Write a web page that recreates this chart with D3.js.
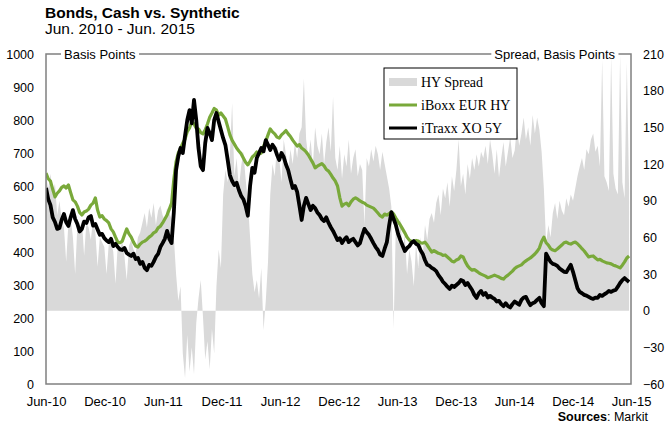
<!DOCTYPE html>
<html>
<head>
<meta charset="utf-8">
<script src="https://cdn.jsdelivr.net/npm/d3@7"></script>
<style>
  body { margin: 0; background: #fff; }
  svg { display: block; font-family: "Liberation Sans", Arial, sans-serif; }
</style>
</head>
<body>
<svg id="chart" width="667" height="427"></svg>
<script>
// Period covered and axis labels
const startDate = new Date(2010, 5, 1);
const endDate = new Date(2015, 5, 1);
const xTickLabels = ["Jun-10", "Dec-10", "Jun-11", "Dec-11", "Jun-12", "Dec-12",
                     "Jun-13", "Dec-13", "Jun-14", "Dec-14", "Jun-15"];
const leftTicks = [0, 100, 200, 300, 400, 500, 600, 700, 800, 900, 1000];
const rightTicks = [-60, -30, 0, 30, 60, 90, 120, 150, 180, 210];

// iBoxx EUR HY, basis points, weekly from Jun-10
const iboxxValues = [
  639, 622, 615, 590, 567, 578, 585, 596, 600, 594, 603, 580, 558, 552, 539, 520, 512, 521, 524, 530,
  542, 548, 564, 527, 506, 510, 500, 495, 488, 470, 461, 445, 430, 428, 433, 452, 470, 455, 445, 430,
  418, 415, 424, 430, 433, 438, 445, 450, 458, 462, 473, 478, 488, 500, 512, 530, 548, 620, 673, 700,
  715, 730, 742, 765, 776, 795, 788, 775, 773, 762, 758, 770, 788, 808, 821, 835, 830, 815, 821, 812,
  803, 780, 755, 738, 727, 715, 706, 698, 685, 672, 664, 675, 688, 694, 703, 697, 700, 720, 736, 755,
  773, 764, 758, 748, 745, 755, 761, 768, 758, 750, 739, 730, 721, 725, 715, 710, 703, 694, 682, 670,
  655, 660, 664, 668, 661, 650, 645, 635, 624, 615, 600, 565, 539, 545, 548, 540, 552, 560, 564, 560,
  555, 551, 548, 542, 539, 536, 533, 526, 518, 510, 506, 515, 512, 516, 521, 515, 503, 492, 482, 470,
  458, 445, 436, 432, 430, 435, 433, 428, 427, 430, 421, 410, 400, 404, 400, 396, 394, 390, 391, 385,
  379, 372, 370, 376, 379, 388, 385, 370, 358, 350, 345, 347, 342, 337, 333, 330, 327, 322, 324, 327,
  330, 327, 324, 320, 318, 325, 330, 336, 342, 350, 355, 358, 361, 368, 373, 378, 382, 388, 394, 402,
  412, 432, 445, 428, 421, 410, 406, 404, 409, 415, 421, 428, 430, 426, 424, 428, 430, 425, 418, 410,
  403, 394, 385, 387, 388, 382, 376, 378, 373, 370, 367, 366, 364, 360, 358, 355, 352, 360, 370, 382,
  388
];

// iTraxx Crossover 5Y, basis points, weekly from Jun-10
const itraxxValues = [
  594, 560, 542, 505, 491, 470, 473, 498, 515, 490, 479, 505, 527, 500, 485, 462, 470, 492, 488, 505,
  509, 480, 485, 468, 452, 455, 442, 435, 430, 440, 418, 425, 415, 408, 406, 412, 397, 392, 388, 395,
  379, 382, 364, 370, 352, 345, 361, 358, 370, 385, 394, 415, 427, 440, 464, 440, 427, 520, 648, 690,
  715, 700, 752, 800, 830, 790, 861, 800, 715, 660, 648, 730, 776, 760, 739, 800, 821, 795, 770, 745,
  724, 680, 633, 615, 603, 610, 588, 570, 560, 540, 510, 600, 655, 640, 685, 700, 715, 705, 739, 725,
  709, 725, 715, 695, 679, 700, 688, 665, 648, 620, 594, 600, 582, 540, 497, 540, 564, 545, 527, 540,
  533, 520, 512, 500, 494, 505, 488, 475, 464, 450, 436, 442, 427, 438, 445, 430, 436, 440, 430, 420,
  427, 450, 470, 460, 452, 440, 427, 415, 406, 392, 388, 410, 430, 480, 521, 500, 482, 455, 436, 420,
  403, 412, 418, 428, 433, 425, 421, 405, 394, 375, 361, 358, 352, 348, 342, 330, 321, 310, 303, 295,
  288, 298, 294, 300, 306, 315, 312, 300, 306, 295, 285, 270, 261, 275, 282, 270, 276, 262, 267, 262,
  258, 250, 252, 242, 236, 245, 236, 232, 242, 250, 245, 240, 255, 262, 264, 250, 239, 245, 248, 255,
  261, 245, 236, 395, 382, 370, 364, 362, 358, 350, 345, 340, 339, 350, 361, 340, 315, 290, 279, 275,
  270, 268, 264, 260, 258, 262, 261, 270, 267, 272, 276, 282, 279, 283, 285, 295, 306, 315, 321, 315,
  309
];

// HY spread (cash minus synthetic), basis points, weekly from Jun-10
const spreadValues = [
  110, 100, 112, 95, 104, 78, 90,
  74, 68, 40, 72, 76, 60, 30, 70, 66, 74, 45, 72, 68, 58, 75, 64, 36, 60,
  56, 52, 30, 55, 58, 48, 22, 54, 50, 57, 44, 25, 53, 58, 50, 47, 60, 64,
  72, 80, 68, 84, 76, 88, 70, 82, 86, 78, 74, 84, 80,
  75, 60, 30,
  8, 20, -35, -55, -20, -50, -30, -52, -10, 10, 25, -5, -40, -25, -48, -15, -35, 20, 50, 35,
  95, 115, 105, 128, 170, 110, 125, 100, 118, 130, 108, 90, 60,
  30, 15, 25, 10, 35, -16, 8, 40,
  95, 120, 110, 135, 125, 105, 140, 128, 115, 132, 120, 138, 125, 145,
  150, 190, 140,
  125, 140, 118, 150, 135, 128, 145, 120, 138, 150, 130,
  175,
  125, 115, 135, 108, 128, 118, 140, 112, 125, 132, 110, 120,
  115, 70, 125, 118, 132, 122, 135, 128, 115, 130, 120, 110, 100, 85,
  -15,
  70, 55, 75, 48, 62, 30, 50, 40, 20, 55, 35, 60, 45, 70, 58, 75,
  80, 72, 88, 95, 78, 100, 92, 105, 85, 110, 98, 115, 140, 102, 112, 95, 120, 108, 125, 115, 128, 118, 130,
  125, 135, 120, 140, 128, 112, 132, 109, 125, 138, 118, 130, 142, 125, 131, 150, 135, 145, 158, 140,
  150, 135, 160, 145, 158, 148, 130, 100, 55, 70, 60,
  80, 88, 75, 90, 82, 78, 92, 85, 95, 90, 100,
  110, 118, 125, 115, 132, 128, 140, 145, 130, 135, 118,
  205, 110, 105, 98, 208, 112, 100, 95, 209, 105, 92, 203, 100
];

const font = "'Liberation Sans', Arial, sans-serif";
const serif = "'Liberation Serif', 'Times New Roman', serif";
const green = "#79a93a";
const grey = "#d9d9d9";
const frameColor = "#808080";

const svg = d3.select("#chart");
const plot = { left: 46, right: 631, top: 54, bottom: 384 };

const x = d3.scaleTime().domain([startDate, endDate]).range([plot.left, plot.right]);
const yLeft = d3.scaleLinear().domain([0, 1000]).range([plot.bottom, plot.top]);
const yRight = d3.scaleLinear().domain([-60, 210]).range([plot.bottom, plot.top]);

const weekly = values => values.map((v, i) => ({ date: d3.timeDay.offset(startDate, 7 * i), v }));
const iboxx = weekly(iboxxValues);
const itraxx = weekly(itraxxValues);
const spread = weekly(spreadValues);

svg.append("defs").append("clipPath").attr("id", "plot-clip")
  .append("rect")
  .attr("x", plot.left).attr("y", plot.top)
  .attr("width", plot.right - plot.left).attr("height", plot.bottom - plot.top);

const body = svg.append("g").attr("clip-path", "url(#plot-clip)");

// Spread as an area on the right-hand scale
body.append("path").datum(spread)
  .attr("fill", grey)
  .attr("d", d3.area()
    .x(d => x(d.date))
    .y0(yRight(0))
    .y1(d => yRight(d.v)));

const line = d3.line().x(d => x(d.date)).y(d => yLeft(d.v));

body.append("path").datum(iboxx)
  .attr("fill", "none").attr("stroke", green)
  .attr("stroke-width", 3.2).attr("stroke-linejoin", "round")
  .attr("d", line);

body.append("path").datum(itraxx)
  .attr("fill", "none").attr("stroke", "#000")
  .attr("stroke-width", 3.8).attr("stroke-linejoin", "round")
  .attr("d", line);

// Frame
svg.append("rect")
  .attr("x", plot.left).attr("y", plot.top)
  .attr("width", plot.right - plot.left).attr("height", plot.bottom - plot.top)
  .attr("fill", "none").attr("stroke", frameColor).attr("stroke-width", 1.5);

// Axis captions sitting on the top edge of the frame
function caption(text, xPos, anchor) {
  const t = svg.append("text")
    .attr("x", xPos).attr("y", plot.top + 4.5)
    .attr("text-anchor", anchor)
    .attr("font-family", font).attr("font-size", 13)
    .attr("fill", "#000").text(text);
  const b = t.node().getBBox();
  svg.insert("rect", () => t.node())
    .attr("x", b.x - 3).attr("y", plot.top - 2)
    .attr("width", b.width + 6).attr("height", 4)
    .attr("fill", "#fff");
}
caption("Basis Points", 64, "start");
caption("Spread, Basis Points", 615, "end");

// Axes
const parseTick = d3.timeParse("%b-%y");
const styleAxis = g => {
  g.select(".domain").remove();
  g.attr("font-family", font).attr("font-size", 12.5).attr("color", "#000");
};

svg.append("g")
  .attr("transform", `translate(${plot.left},0)`)
  .call(d3.axisLeft(yLeft).tickValues(leftTicks).tickFormat(d3.format("d"))
    .tickSize(0).tickPadding(12))
  .call(styleAxis);

svg.append("g")
  .attr("transform", `translate(${plot.right},0)`)
  .call(d3.axisRight(yRight).tickValues(rightTicks).tickFormat(d3.format("d"))
    .tickSize(0).tickPadding(12))
  .call(styleAxis);

svg.append("g")
  .attr("transform", `translate(0,${plot.bottom})`)
  .call(d3.axisBottom(x).tickValues(xTickLabels.map(parseTick))
    .tickFormat(d3.timeFormat("%b-%y")).tickSize(0).tickPadding(13))
  .call(styleAxis)
  .attr("font-size", 13);

// Titles
svg.append("text").attr("x", 45).attr("y", 18)
  .attr("font-family", font).attr("font-size", 15.5).attr("font-weight", "bold")
  .attr("fill", "#000").text("Bonds, Cash vs. Synthetic");
svg.append("text").attr("x", 45).attr("y", 34)
  .attr("font-family", font).attr("font-size", 15.5)
  .attr("fill", "#000").text("Jun. 2010 - Jun. 2015");

// Source note
const src = svg.append("text").attr("x", 648).attr("y", 421)
  .attr("text-anchor", "end").attr("font-family", font).attr("font-size", 12.5).attr("fill", "#000");
src.append("tspan").attr("font-weight", "bold").text("Sources");
src.append("tspan").text(": Markit");

// Legend
const legendItems = [
  { label: "HY Spread", type: "area" },
  { label: "iBoxx EUR HY", type: "line", color: green },
  { label: "iTraxx XO 5Y", type: "line", color: "#000" }
];
const legend = svg.append("g").attr("transform", "translate(384,68)");
legend.append("rect").attr("width", 133).attr("height", 71)
  .attr("fill", "#fff").attr("stroke", "#000").attr("stroke-width", 1);
legendItems.forEach((item, i) => {
  const cy = 14 + i * 23;
  if (item.type === "area") {
    legend.append("rect").attr("x", 5).attr("y", cy - 4).attr("width", 28).attr("height", 8).attr("fill", grey);
  } else {
    legend.append("line").attr("x1", 5).attr("x2", 33).attr("y1", cy).attr("y2", cy)
      .attr("stroke", item.color).attr("stroke-width", 3);
  }
  legend.append("text").attr("x", 37).attr("y", cy + 5)
    .attr("font-family", serif).attr("font-size", 14).attr("fill", "#000")
    .text(item.label);
});
</script>
</body>
</html>
